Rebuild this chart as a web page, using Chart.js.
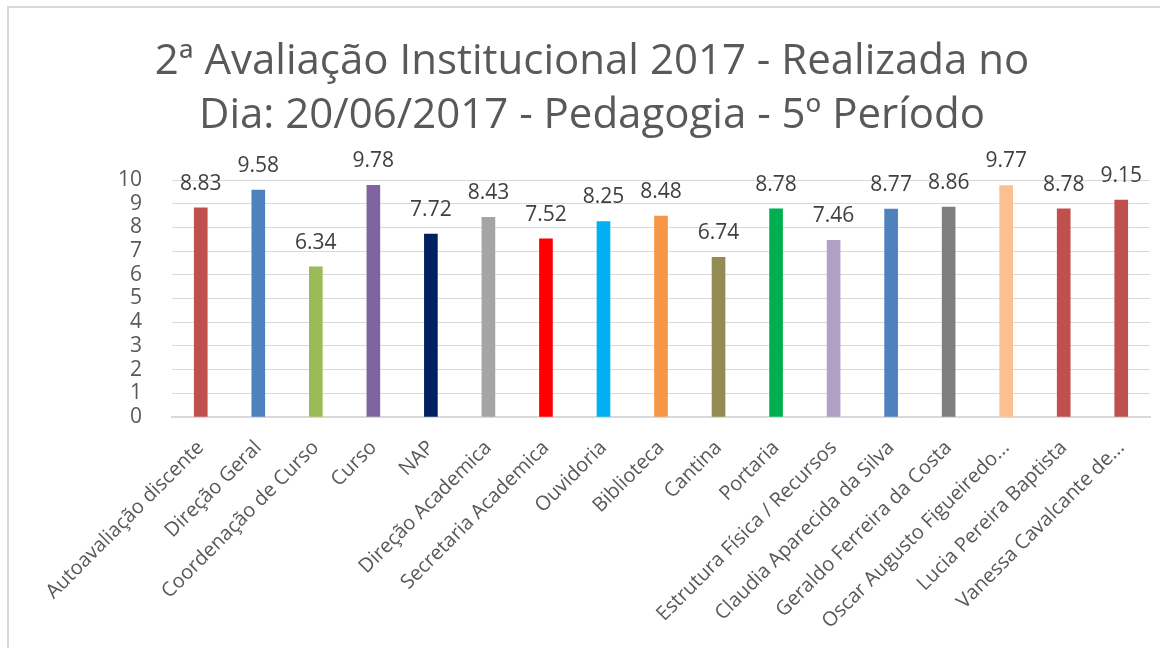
<!DOCTYPE html>
<html>
<head>
<meta charset="utf-8">
<script src="https://cdn.jsdelivr.net/npm/chart.js@4/dist/chart.umd.min.js"></script>
<style>
    html, body { margin: 0; padding: 0; background: #fff; overflow: hidden; }
    #frame {
        position: absolute;
        left: 7px; top: 6px;
        width: 1200px; height: 700px;
        border-top: 2px solid #d9d9d9;
        border-left: 2px solid #d9d9d9;
        pointer-events: none;
    }
    canvas { display: block; position: absolute; left: 0; top: 0; }
</style>
</head>
<body>
<canvas id="chart" width="1160" height="648"></canvas>
<div id="frame"></div>
<script>
// Categories and scores
const categories = [
    "Autoavaliação discente",
    "Direção Geral",
    "Coordenação de Curso",
    "Curso",
    "NAP",
    "Direção Academica",
    "Secretaria Academica",
    "Ouvidoria",
    "Biblioteca",
    "Cantina",
    "Portaria",
    "Estrutura Física / Recursos",
    "Claudia Aparecida da Silva",
    "Geraldo Ferreira da Costa",
    "Oscar Augusto Figueiredo...",
    "Lucia Pereira Baptista",
    "Vanessa Cavalcante de...",
];

const scores = [8.83, 9.58, 6.34, 9.78, 7.72, 8.43, 7.52, 8.25, 8.48, 6.74, 8.78, 7.46, 8.77, 8.86, 9.77, 8.78, 9.15];

const barColors = [
    "#C0504D", "#4F81BD", "#9BBB59", "#8064A2", "#002060", "#A5A5A5",
    "#FF0000", "#00B0F0", "#F79646", "#948A54", "#00B050", "#B2A1C7",
    "#4F81BD", "#7F7F7F", "#FAC090", "#C0504D", "#C0504D",
];

const titleLines = [
    "2ª Avaliação Institucional 2017 - Realizada no",
    "Dia: 20/06/2017 - Pedagogia - 5º Período",
];

const FONT = "'Open Sans', 'DejaVu Sans', sans-serif";

// Draw value labels above each bar
const valueLabels = {
    id: "valueLabels",
    afterDatasetsDraw(chart) {
        const ctx = chart.ctx;
        const meta = chart.getDatasetMeta(0);
        ctx.save();
        ctx.font = "21px " + FONT;
        ctx.fillStyle = "#404040";
        ctx.textAlign = "center";
        ctx.textBaseline = "alphabetic";
        meta.data.forEach((bar, i) => {
            ctx.fillText(scores[i].toFixed(2), bar.x, bar.y - 18);
        });
        ctx.restore();
    },
};

const chart = new Chart(document.getElementById("chart"), {
    type: "bar",
    data: {
        labels: categories,
        datasets: [{
            data: scores,
            backgroundColor: barColors,
            barThickness: 13,
        }, ],
    },
    options: {
        responsive: false,
        animation: false,
        layout: {
            padding: { left: 34, right: 10, top: 6, bottom: 0 },
        },
        scales: {
            x: {
                grid: { display: false, drawTicks: false },
                border: { color: "#d9d9d9", width: 2 },
                ticks: {
                    color: "#595959",
                    font: { family: FONT, size: 20 },
                    minRotation: 45,
                    maxRotation: 45,
                    autoSkip: false,
                    padding: 19,
                },
                afterFit(axis) {
                    axis.height = 231;
                },
            },
            y: {
                min: 0,
                max: 10,
                ticks: {
                    stepSize: 1,
                    autoSkip: false,
                    color: "#595959",
                    font: { family: FONT, size: 21 },
                    padding: 30,
                },
                grid: { color: "#d9d9d9", lineWidth: 1, drawTicks: false },
                border: { display: false },
                afterFit(axis) {
                    axis.width = 138;
                },
            },
        },
        plugins: {
            legend: { display: false },
            tooltip: { enabled: false },
            title: {
                display: true,
                text: titleLines,
                color: "#595959",
                font: { family: FONT, size: 42, weight: "normal", lineHeight: 1.286 },
                padding: { top: 29, bottom: 37 },
            },
        },
    },
    plugins: [valueLabels],
});
</script>
</body>
</html>
